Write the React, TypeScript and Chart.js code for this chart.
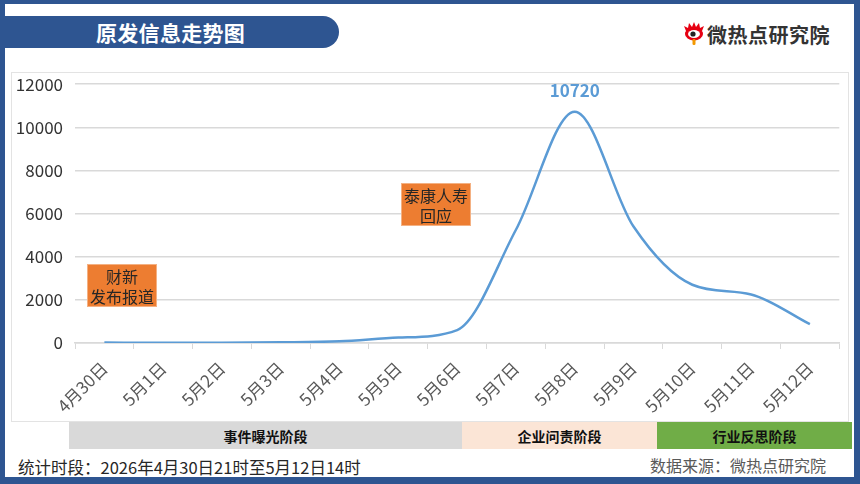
import React, { useEffect, useRef } from "react";
import { Chart, registerables } from "chart.js";

Chart.register(...registerables);

const categories = [
  "4月30日", "5月1日", "5月2日", "5月3日", "5月4日", "5月5日", "5月6日",
  "5月7日", "5月8日", "5月9日", "5月10日", "5月11日", "5月12日",
];
const postCounts = [20, 10, 10, 30, 80, 250, 600, 5250, 10720, 5400, 2700, 2250, 870];
const yTicks = [0, 2000, 4000, 6000, 8000, 10000, 12000];
const phases = ["事件曝光阶段", "企业问责阶段", "行业反思阶段"];

const CJK = '"Noto Sans CJK SC", "Noto Sans", sans-serif';
const BLUE = "#2E5591";

const peakLabelPlugin = {
  id: "peakLabel",
  afterDatasetsDraw(chart: any) {
    const ds = chart.data.datasets[0];
    const data = ds.data as number[];
    let mi = 0;
    data.forEach((v, i) => { if (v > data[mi]) mi = i; });
    const pt = chart.getDatasetMeta(0).data[mi];
    const ctx = chart.ctx;
    ctx.save();
    ctx.font = `bold 17px ${CJK}`;
    ctx.fillStyle = "#5B9BD5";
    ctx.textAlign = "center";
    ctx.textBaseline = "middle";
    ctx.fillText(String(data[mi]), pt.x, pt.y - 21);
    ctx.restore();
  },
};

function LineChart() {
  const ref = useRef<HTMLCanvasElement>(null);
  useEffect(() => {
    const chart = new Chart(ref.current!, {
      type: "line",
      data: {
        labels: categories,
        datasets: [
          {
            data: postCounts,
            borderColor: "#5B9BD5",
            borderWidth: 2.5,
            pointRadius: 0,
            cubicInterpolationMode: "monotone",
            fill: false,
          },
        ],
      },
      options: {
        responsive: false,
        animation: false,
        layout: { padding: { left: 0, right: 8.7, top: 0, bottom: 0 } },
        plugins: { legend: { display: false }, tooltip: { enabled: false } },
        scales: {
          x: {
            offset: true,
            grid: {
              offset: true,
              drawOnChartArea: false,
              drawTicks: true,
              tickLength: 6,
              color: "#D9D9D9",
            },
            border: { display: true, color: "#D9D9D9", width: 1.5 },
            ticks: {
              minRotation: 45,
              maxRotation: 45,
              autoSkip: false,
              padding: 9,
              color: "#595959",
              font: { family: CJK, size: 17 },
            },
            afterFit(s: any) { s.height = 77; },
          },
          y: {
            min: 0,
            max: 12000,
            afterBuildTicks(s: any) { s.ticks = yTicks.map((v) => ({ value: v })); },
            grid: { color: "#D9D9D9", lineWidth: 1.5, drawTicks: false },
            border: { display: false },
            ticks: {
              padding: 12,
              color: "#333333",
              font: { family: CJK, size: 17 },
              callback: (v: any) => String(v),
            },
            afterFit(s: any) { s.width = 63; },
          },
        },
      },
      plugins: [peakLabelPlugin],
    });
    return () => chart.destroy();
  }, []);
  return <canvas ref={ref} width={836} height={358} style={{ display: "block" }} />;
}

const abs = (l: number, t: number, w: number, h: number): React.CSSProperties => ({
  position: "absolute", left: l, top: t, width: w, height: h, boxSizing: "border-box",
});

const noteStyle = (l: number, t: number, w: number, h: number): React.CSSProperties => ({
  ...abs(l, t, w, h),
  background: "#ED7D31",
  border: "1px solid #F4B183",
  color: "#262626",
  font: `16px/20px ${CJK}`,
  display: "flex",
  flexDirection: "column",
  alignItems: "center",
  justifyContent: "center",
  textAlign: "center",
});

const phaseStyle = (l: number, w: number, bg: string): React.CSSProperties => ({
  ...abs(l, 422, w, 27),
  background: bg,
  font: `bold 14px ${CJK}`,
  color: "#111",
  display: "flex",
  alignItems: "center",
  justifyContent: "center",
});

export default function App() {
  return (
    <div style={{ position: "absolute", left: 0, top: 0, width: 860, height: 484, background: BLUE, overflow: "hidden", fontFamily: CJK }}>
      <div style={{ ...abs(5, 4, 849, 473), background: "#fff" }} />
      {/* title banner */}
      <div style={{ ...abs(0, 16, 339, 32), background: BLUE, borderRadius: "0 16px 16px 0", color: "#fff", font: `bold 21px ${CJK}`, display: "flex", alignItems: "center", paddingLeft: 96, letterSpacing: 0.3 }}>
        原发信息走势图
      </div>
      {/* logo */}
      <svg style={{ position: "absolute", left: 683, top: 22 }} width="22" height="24" viewBox="0 0 22 24">
        <path d="M3 9 L1 4 L5 6 L6 1 L9 5 L11 0 L13 5 L16 1 L17 6 L21 4 L19 9 Z" fill="#E60012" />
        <ellipse cx="11" cy="12" rx="9" ry="6.5" fill="#E60012" />
        <ellipse cx="11" cy="12" rx="6" ry="4" fill="#fff" />
        <circle cx="10" cy="12" r="2.6" fill="#222" />
        <rect x="9.5" y="17" width="3" height="6" rx="1.2" fill="#F39800" />
      </svg>
      <div style={{ ...abs(707, 22, 140, 26), font: `bold 20px ${CJK}`, color: "#333", letterSpacing: 0.5, lineHeight: "26px" }}>
        微热点研究院
      </div>
      {/* chart box */}
      <div style={{ ...abs(11, 72, 838, 350), border: "1px solid #E3E3E3", background: "#fff" }} />
      <div style={{ position: "absolute", left: 12, top: 62 }}>
        <LineChart />
      </div>
      {/* annotations */}
      <div style={noteStyle(87, 264, 70, 43)}>
        <span>财新</span>
        <span>发布报道</span>
      </div>
      <div style={noteStyle(401, 183, 70, 43)}>
        <span>泰康人寿</span>
        <span>回应</span>
      </div>
      {/* phases */}
      <div style={phaseStyle(69, 393, "#D9D9D9")}>{phases[0]}</div>
      <div style={phaseStyle(462, 195, "#FBE5D6")}>{phases[1]}</div>
      <div style={phaseStyle(657, 195, "#70AD47")}>{phases[2]}</div>
      {/* footer */}
      <div style={{ ...abs(18, 455, 420, 24), font: `16.5px/24px ${CJK}`, color: "#262626" }}>
        统计时段：2026年4月30日21时至5月12日14时
      </div>
      <div style={{ ...abs(560, 453, 266, 24), font: `16px/24px ${CJK}`, color: "#595959", textAlign: "right" }}>
        数据来源：微热点研究院
      </div>
    </div>
  );
}
